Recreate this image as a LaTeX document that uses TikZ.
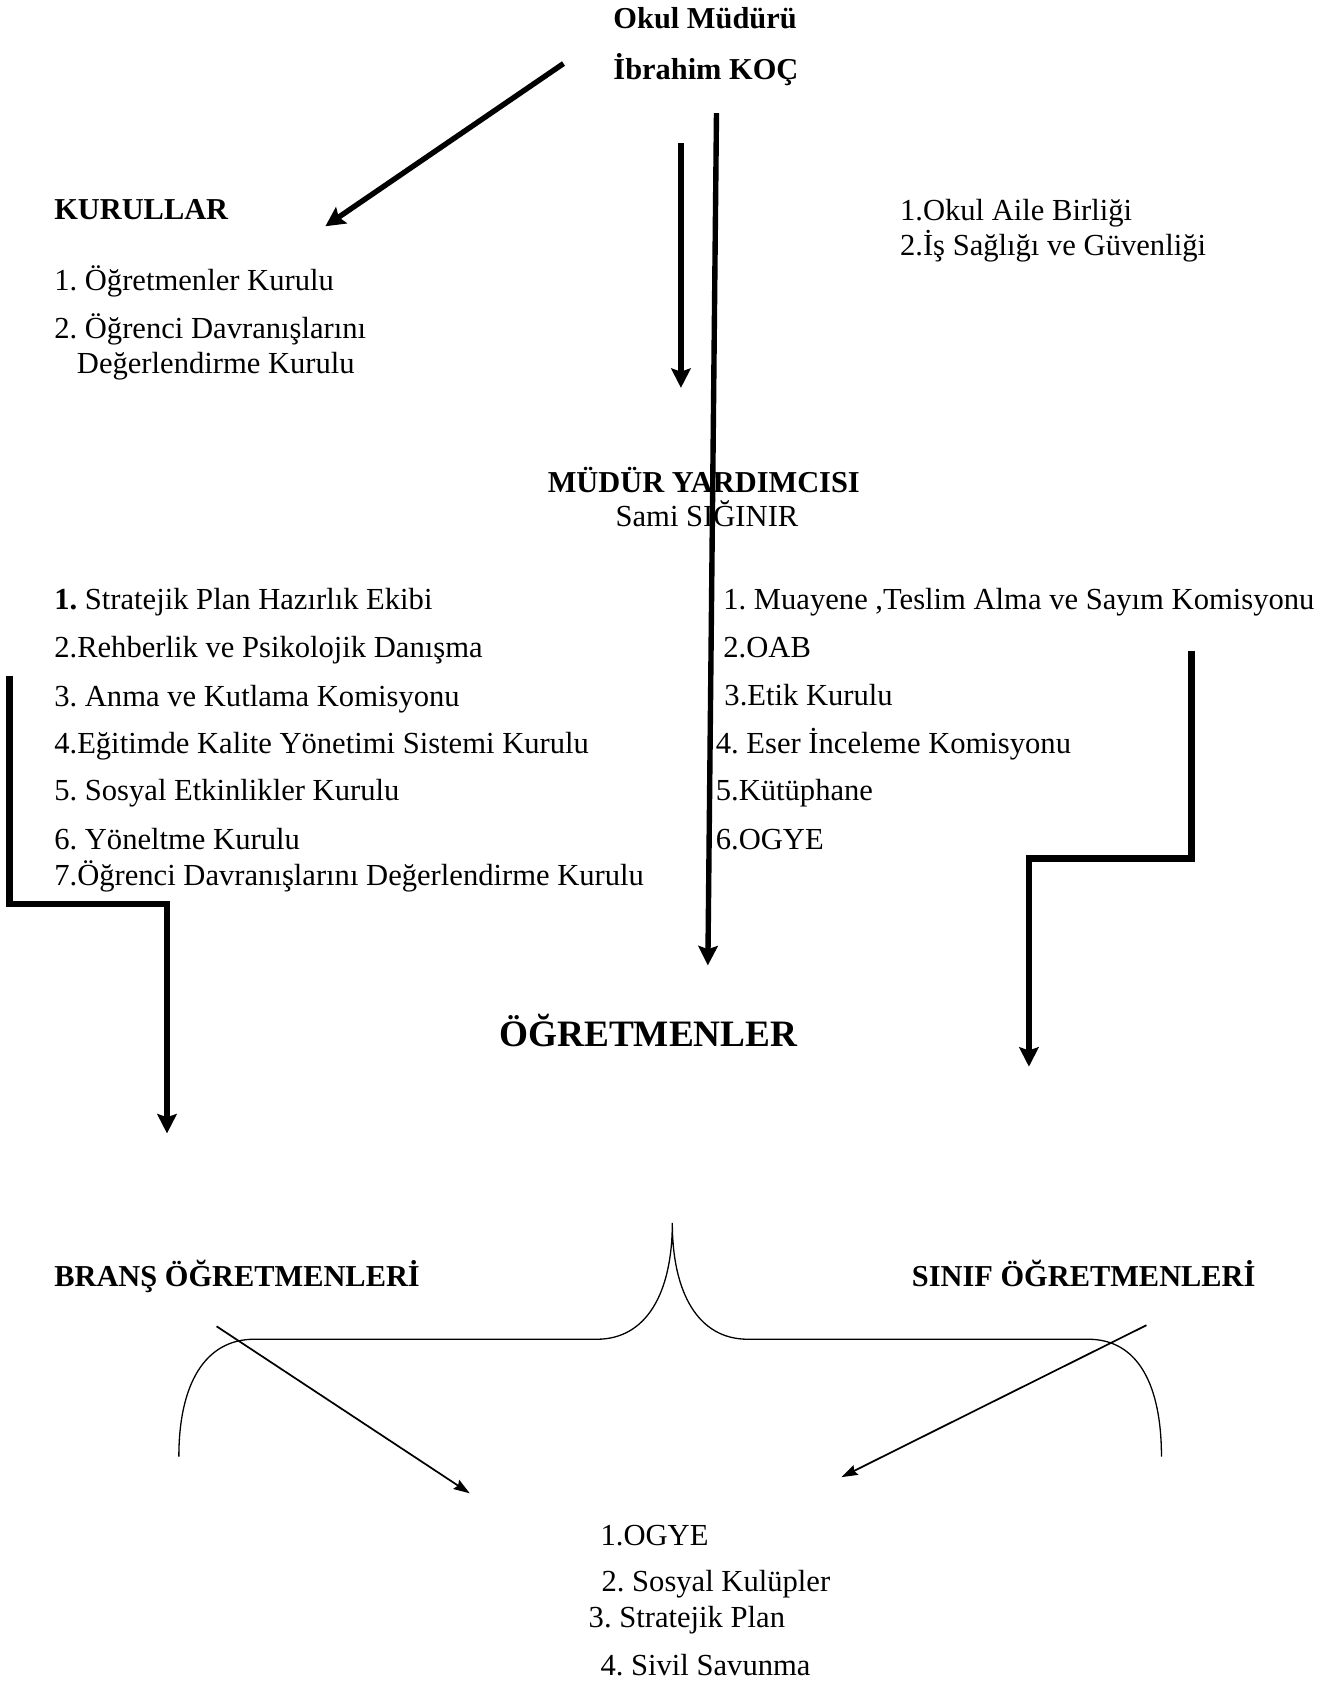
\documentclass[tikz,border=0pt]{standalone}
\usepackage{fontspec}
\setmainfont{Liberation Serif}
\usetikzlibrary{arrows.meta}
\frenchspacing

\begin{document}
\begin{tikzpicture}[x=0.5pt, y=-0.5pt, >={Stealth[length=9pt,width=9pt,inset=1.5pt]},
    metin/.style={anchor=base west, inner sep=0pt, font=\fontsize{14.2}{17}\selectfont},
    baslik/.style={anchor=base west, inner sep=0pt, font=\fontsize{14.1}{17}\selectfont\bfseries},
    kalin/.style={->, line width=2.5pt},
    basamak/.style={->, line width=3pt},
    ince/.style={-{Stealth[length=7.5pt,width=5pt,inset=1pt]}, line width=0.8pt},
    parantez/.style={line width=0.6pt}]
    % x, y em pixel (1240 x 1563), y para baixo
    \useasboundingbox (0,0) rectangle (1240,1563);

    % Okul Müdürü
    \node[baslik] (mudur) at (569,26) {Okul Müdürü};
    \node[baslik] (mudurad) at (569,74) {İbrahim KOÇ};

    % Kurullar
    \node[baslik] (kurullar) at (50,204) {KURULLAR};
    \node[metin] (kurul1) at (50,270) {1. Öğretmenler Kurulu};
    \node[metin] (kurul2) at (50,314) {2. Öğrenci Davranışlarını};
    \node[metin] (kurul2b) at (71,347) {Değerlendirme Kurulu};

    \node[metin] (aile) at (835,205) {1.Okul Aile Birliği};
    \node[metin] (isg) at (835,237) {2.İş Sağlığı ve Güvenliği};

    % Müdür yardımcısı
    \node[baslik] (yardimci) at (508,457) {MÜDÜR YARDIMCISI};
    \node[metin] (yardimciad) at (571,489) {Sami SIĞINIR};

    % Sol liste
    \node[metin] (sol1) at (50,566) {\textbf{1.} Stratejik Plan Hazırlık Ekibi};
    \node[metin] (sol2) at (50,610) {2.Rehberlik ve Psikolojik Danışma};
    \node[metin] (sol3) at (50,656) {3. Anma ve Kutlama Komisyonu};
    \node[metin] (sol4) at (50,699) {4.Eğitimde Kalite Yönetimi Sistemi Kurulu};
    \node[metin] (sol5) at (50,743) {5. Sosyal Etkinlikler Kurulu};
    \node[metin] (sol6) at (50,788) {6. Yöneltme Kurulu};
    \node[metin] (sol7) at (50,822) {7.Öğrenci Davranışlarını Değerlendirme Kurulu};

    % Sağ liste
    \node[metin] (sag1) at (671,566) {1. Muayene ,Teslim Alma ve Sayım Komisyonu};
    \node[metin] (sag2) at (671,610) {2.OAB};
    \node[metin] (sag3) at (672,655) {3.Etik Kurulu};
    \node[metin] (sag4) at (664,699) {4. Eser İnceleme Komisyonu};
    \node[metin] (sag5) at (664,743) {5.Kütüphane};
    \node[metin] (sag6) at (664,788) {6.OGYE};

    % Öğretmenler
    \node[baslik, font=\fontsize{17.3}{20}\selectfont\bfseries] (ogretmenler) at (463,971) {ÖĞRETMENLER};
    \node[baslik] (brans) at (50,1194) {BRANŞ ÖĞRETMENLERİ};
    \node[baslik] (sinif) at (846,1194) {SINIF ÖĞRETMENLERİ};

    % Alt liste
    \node[metin] (alt1) at (557,1434) {1.OGYE};
    \node[metin] (alt2) at (558,1477) {2. Sosyal Kulüpler};
    \node[metin] (alt3) at (546,1511) {3. Stratejik Plan};
    \node[metin] (alt4) at (557,1555) {4. Sivil Savunma};

    % Oklar
    \coordinate (kurulbas) at (523,59);
    \coordinate (kuruluc) at (302,210);
    \coordinate (kisabas) at (632,133);
    \coordinate (kisauc) at (632,360);
    \coordinate (uzunbas) at (665,105);
    \coordinate (uzunuc) at (657,896);
    \draw[kalin] (kurulbas) -- (kuruluc);
    \draw[kalin] (kisabas) -- (kisauc);
    \draw[kalin] (uzunbas) -- (uzunuc);

    % Basamaklı oklar
    \coordinate (solA) at (9,627);
    \coordinate (solB) at (155,839);
    \coordinate (solC) at (155,1052);
    \coordinate (sagA) at (1106,604);
    \coordinate (sagB) at (955,797);
    \coordinate (sagC) at (955,990);
    \draw[basamak] (solA) |- (solB) -- (solC);
    \draw[basamak] (sagA) |- (sagB) -- (sagC);

    % Parantez
    \draw[parantez] (166,1352) .. controls (166,1285) and (190,1243) .. (236,1243)
        -- (554,1243) .. controls (600,1243) and (624,1200) .. (624,1135)
        .. controls (624,1200) and (648,1243) .. (694,1243)
        -- (1010,1243) .. controls (1056,1243) and (1078,1285) .. (1078,1352);

    % Alt oklar
    \coordinate (bransbas) at (201,1231);
    \coordinate (bransuc) at (436,1386);
    \coordinate (sinifbas) at (1064,1230);
    \coordinate (sinifuc) at (781,1371);
    \draw[ince] (bransbas) -- (bransuc);
    \draw[ince] (sinifbas) -- (sinifuc);
\end{tikzpicture}
\end{document}
